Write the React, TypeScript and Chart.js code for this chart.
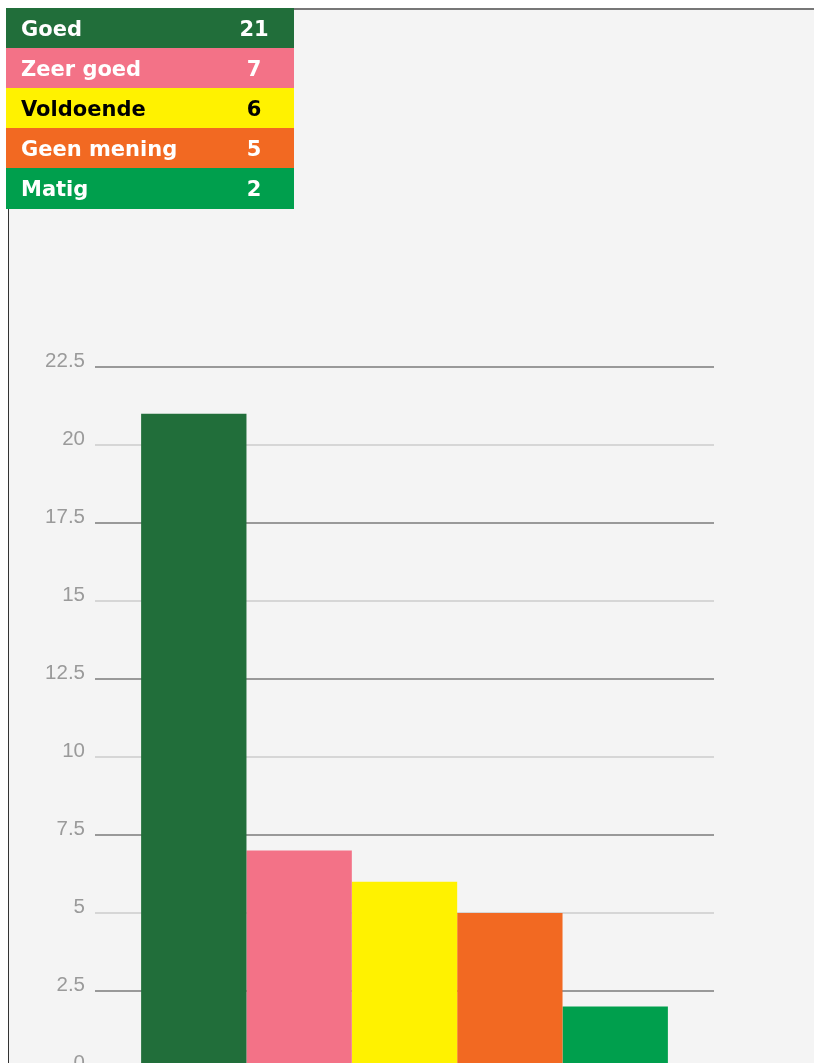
import React, { useEffect, useRef } from "react";
import { Chart, registerables } from "chart.js";

Chart.register(...registerables);

const categories = ["Goed", "Zeer goed", "Voldoende", "Geen mening", "Matig"];
const values = [21, 7, 6, 5, 2];
const colors = ["#216e3a", "#f37287", "#fff200", "#f26922", "#009f4d"];
const textColors = ["#ffffff", "#ffffff", "#000000", "#ffffff", "#ffffff"];
const yMax = 22.5;
const yStep = 2.5;

if (typeof document !== "undefined") {
  document.documentElement.style.overflow = "hidden";
  document.body.style.margin = "0";
  document.body.style.overflow = "hidden";
}

export default function App() {
  const canvasRef = useRef<HTMLCanvasElement | null>(null);

  useEffect(() => {
    const canvas = canvasRef.current;
    if (!canvas) return;
    const chart = new Chart(canvas, {
      type: "bar",
      data: {
        labels: [""],
        datasets: categories.map((c, i) => ({
          label: c,
          data: [values[i]],
          backgroundColor: colors[i],
          borderWidth: 0,
          barPercentage: 1,
          categoryPercentage: 0.851,
        })),
      },
      options: {
        animation: false,
        responsive: false,
        maintainAspectRatio: false,
        layout: { padding: { top: 367, bottom: 31, left: 0, right: 100 } },
        plugins: { legend: { display: false }, tooltip: { enabled: false } },
        scales: {
          x: { display: false },
          y: {
            min: 0,
            max: yMax,
            afterFit: (s: any) => {
              s.width = 95;
            },
            border: { display: false },
            grid: {
              drawTicks: false,
              lineWidth: 2,
              color: (ctx: any) =>
                ctx.tick && ctx.tick.value % 5 === 2.5 ? "#999999" : "#d6d6d6",
            },
            ticks: {
              stepSize: yStep,
              padding: 10,
              labelOffset: -6,
              color: "#9a9a9a",
              font: { family: "'Liberation Sans', Arial, sans-serif", size: 20.5 },
              callback: (v: any) => String(v),
            },
          },
        },
      },
    });
    return () => chart.destroy();
  }, []);

  return (
    <div
      style={{
        position: "relative",
        width: 814,
        height: 1063,
        overflow: "hidden",
        background: "#ffffff",
      }}
    >
      <div
        style={{
          position: "absolute",
          left: 8,
          top: 8,
          width: 806,
          height: 1055,
          background: "#f4f4f4",
          borderTop: "2px solid #777777",
          borderLeft: "1px solid #333333",
          boxSizing: "border-box",
        }}
      />
      <canvas
        ref={canvasRef}
        width={814}
        height={1100}
        style={{ position: "absolute", left: 0, top: 0, width: 814, height: 1100 }}
      />
      <div
        style={{
          position: "absolute",
          left: 6,
          top: 8,
          width: 288,
          fontFamily: "'DejaVu Sans', sans-serif",
          fontWeight: 700,
          fontSize: 21,
        }}
      >
        {categories.map((c, i) => (
          <div
            key={c}
            style={{
              position: "relative",
              height: i === categories.length - 1 ? 41 : 40,
              background: colors[i],
              color: textColors[i],
              lineHeight: "40px",
            }}
          >
            <span style={{ position: "absolute", left: 15, top: 1 }}>{c}</span>
            <span
              style={{
                position: "absolute",
                left: 202,
                top: 1,
                width: 92,
                textAlign: "center",
              }}
            >
              {values[i]}
            </span>
          </div>
        ))}
      </div>
    </div>
  );
}
